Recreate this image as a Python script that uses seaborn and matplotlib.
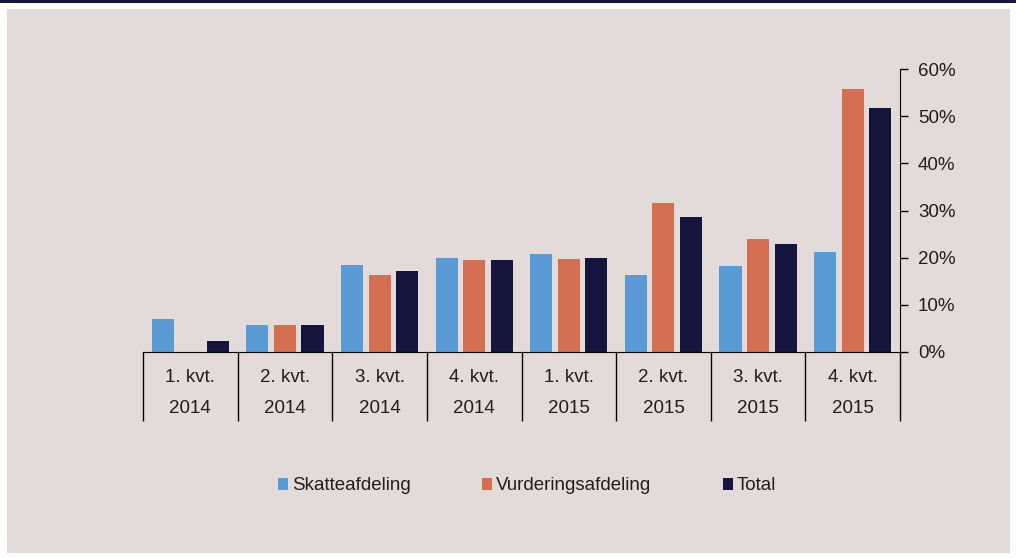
import pandas as pd
import seaborn as sns
import matplotlib.pyplot as plt
from matplotlib.patches import Rectangle
from matplotlib.ticker import PercentFormatter, FixedLocator

quarters = ["1. kvt.", "2. kvt.", "3. kvt.", "4. kvt.", "1. kvt.", "2. kvt.", "3. kvt.", "4. kvt."]
years = ["2014", "2014", "2014", "2014", "2015", "2015", "2015", "2015"]
series = ["Skatteafdeling", "Vurderingsafdeling", "Total"]
skat = [0.071, 0.057, 0.185, 0.199, 0.207, 0.164, 0.183, 0.211]
vurd = [0.0, 0.057, 0.164, 0.194, 0.197, 0.316, 0.240, 0.558]
total = [0.024, 0.057, 0.172, 0.196, 0.199, 0.286, 0.229, 0.518]

colors = ["#5B9BD5", "#D46F52", "#14143C"]
bg = "#E3DBD9"

periods = [f"{q}\n{y}" for q, y in zip(quarters, years)]
rows = []
for name, vals in zip(series, [skat, vurd, total]):
    for p, v in zip(periods, vals):
        rows.append([p, name, v])
df = pd.DataFrame(rows, columns=["period", "series", "value"])

plt.rcParams["font.family"] = ["Liberation Sans", "DejaVu Sans"]
fig = plt.figure(figsize=(10.16, 5.58), dpi=100)
fig.patch.set_facecolor("white")
fig.patches.append(Rectangle((7 / 1016, 1 - 553 / 558), 1003 / 1016, 544 / 558,
                             transform=fig.transFigure, facecolor=bg, edgecolor="none", zorder=-10))
fig.patches.append(Rectangle((0, 1 - 3 / 558), 1, 3 / 558,
                             transform=fig.transFigure, facecolor="#14143C", edgecolor="none", zorder=-9))

ax = fig.add_axes([143 / 1016, 1 - 352 / 558, 757 / 1016, 283 / 558])
ax.set_facecolor("none")
sns.barplot(data=df, x="period", y="value", hue="series", palette=colors,
            width=0.875, gap=0.2, ax=ax, legend=True, saturation=1)

ax.set_xlim(-0.5, 7.5)
ax.set_ylim(0, 0.6)
ax.set_xlabel("")
ax.set_ylabel("")
ax.yaxis.tick_right()
ax.yaxis.set_major_formatter(PercentFormatter(1.0, decimals=0))
ax.set_yticks([0, 0.1, 0.2, 0.3, 0.4, 0.5, 0.6])
ax.tick_params(axis="y", length=6, width=1, color="black", labelsize=13.5, pad=7)
for s in ["left", "top"]:
    ax.spines[s].set_visible(False)
ax.spines["right"].set_color("black")
ax.spines["bottom"].set_color("black")

ax.xaxis.set_minor_locator(FixedLocator([i - 0.5 for i in range(9)]))
ax.tick_params(axis="x", which="minor", length=50, width=1, color="black")
ax.tick_params(axis="x", which="major", length=0, labelsize=13.5, pad=12)
for lbl in ax.get_xticklabels():
    lbl.set_linespacing(2.1)
    lbl.set_color("#1E1E1E")
for lbl in ax.get_yticklabels():
    lbl.set_color("#1E1E1E")

handles, labels = ax.get_legend_handles_labels()
ax.get_legend().remove()
fig.legend(handles, labels, loc="center", bbox_to_anchor=(527 / 1016, 1 - 486 / 558),
           ncol=3, frameon=False, fontsize=13.5, handlelength=0.55, handleheight=0.55,
           handletextpad=0.2, columnspacing=3.8, labelcolor="#1E1E1E")

fig.savefig("out.png", dpi=100, facecolor=fig.get_facecolor())
